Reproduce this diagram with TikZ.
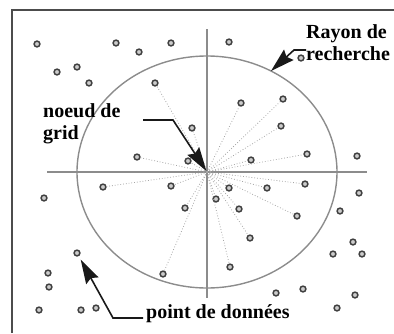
\documentclass[tikz,border=0pt]{standalone}
\usepackage{fontspec}
\setmainfont{Liberation Serif}
\usetikzlibrary{arrows.meta,calc}

\begin{document}
\begin{tikzpicture}[x=1pt, y=-1pt,
    pt/.style={circle, draw=black!75, fill=black!20, line width=1.5pt,
               inner sep=0pt, minimum size=5.8pt},
    axe/.style={draw=black!45, line width=1.4pt},
    rayon/.style={dotted, black!35, line width=0.8pt},
    lbl/.style={font=\fontsize{20}{22.5}\selectfont\bfseries, align=left,
                inner sep=0pt, anchor=north west},
    pointer/.style={line width=1.6pt, black!90,
                    arrows={-Stealth[length=24pt, width=14pt, inset=3pt]}},
]
\useasboundingbox (0,0) rectangle (394,333);

% Cadre
\draw[line width=2pt, black!70] (12,333) -- (12,10) -- (394,10);

% Noeud de grid, axes et rayon
\coordinate (grid) at (207,172);
\coordinate (hg) at (47,172);
\coordinate (hd) at (367,172);
\coordinate (vh) at (207,29);
\coordinate (vb) at (207,298);
\draw[axe] (hg) -- (hd);
\draw[axe] (vh) -- (vb);
\draw[axe] (grid) ellipse [x radius=130pt, y radius=116pt];

% Points dans le rayon
\foreach \x/\y [count=\i] in {155/83, 192/128, 137/157, 188/161, 241/103,
    283/99, 281/126, 251/160, 307/154, 103/187, 171/186, 185/208, 163/274,
    229/188, 267/188, 305/184, 216/199, 239/209, 297/216, 250/238, 230/267}
  \node[pt] (in\i) at (\x,\y) {};
\foreach \i in {1,...,21}
  \draw[rayon] (grid) -- (in\i);

% Points hors du rayon
\foreach \x/\y [count=\i] in {37/44, 116/43, 139/52, 171/43, 57/72, 77/67,
    89/83, 229/42, 301/58, 357/156, 44/198, 48/273, 49/287, 39/310, 81/310,
    96/308, 359/193, 340/211, 353/242, 333/254, 362/254, 276/293, 303/289,
    355/295, 337/308}
  \node[pt] (out\i) at (\x,\y) {};
\node[pt] (donnee) at (77,253) {};

% Etiquettes
\node[lbl] (noeud) at (43,103) {noeud de\\grid};
\node[lbl] (rech) at (306,24) {Rayon de\\recherche};
\node[lbl] (donnees) at (146,304) {point de données};

% Fleches
\coordinate (n0) at (143,120);
\coordinate (r0) at (306,50);
\coordinate (bord) at (271,71);
\coordinate (d0) at (143,318);
\draw[pointer, shorten >=1pt] (n0) -- ++(30,0) -- (grid);
\draw[pointer] (r0) -- ++(-12,0) -- (bord);
\draw[pointer, shorten >=4pt] (d0) -- ++(-30,0) -- (donnee);
\end{tikzpicture}
\end{document}
